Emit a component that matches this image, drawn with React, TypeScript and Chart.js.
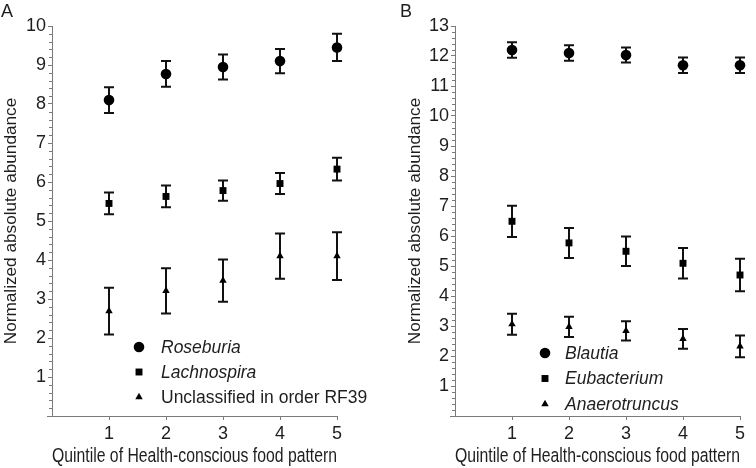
import React, { useEffect, useRef } from "react";
import { Chart, registerables } from "chart.js";

Chart.register(...registerables);

const quintiles = [1, 2, 3, 4, 5];
const xTickLabels = ["", "1", "2", "3", "4", "5"];

// Panel A
const roseburiaMean = [8.1, 8.77, 8.95, 9.1, 9.45];
const roseburiaErr = [0.33, 0.33, 0.32, 0.31, 0.35];
const lachnospiraMean = [5.45, 5.63, 5.78, 5.96, 6.33];
const lachnospiraErr = [0.28, 0.28, 0.26, 0.27, 0.29];
const rf39Mean = [2.69, 3.21, 3.47, 4.1, 4.1];
const rf39Err = [0.6, 0.58, 0.54, 0.58, 0.61];

// Panel B
const blautiaMean = [12.2, 12.1, 12.03, 11.69, 11.69];
const blautiaErr = [0.26, 0.26, 0.25, 0.26, 0.26];
const eubacteriumMean = [6.49, 5.77, 5.49, 5.09, 4.7];
const eubacteriumErr = [0.52, 0.5, 0.49, 0.51, 0.54];
const anaerotruncusMean = [3.06, 2.97, 2.84, 2.57, 2.32];
const anaerotruncusErr = [0.35, 0.34, 0.32, 0.33, 0.36];

const seriesA = [
  { label: "Roseburia", italic: true, style: "circle", mean: roseburiaMean, err: roseburiaErr },
  { label: "Lachnospira", italic: true, style: "rect", mean: lachnospiraMean, err: lachnospiraErr },
  { label: "Unclassified in order RF39", italic: false, style: "triangle", mean: rf39Mean, err: rf39Err },
];
const seriesB = [
  { label: "Blautia", italic: true, style: "circle", mean: blautiaMean, err: blautiaErr },
  { label: "Eubacterium", italic: true, style: "rect", mean: eubacteriumMean, err: eubacteriumErr },
  { label: "Anaerotruncus", italic: true, style: "triangle", mean: anaerotruncusMean, err: anaerotruncusErr },
];

const FONT = "'Liberation Sans', Arial, sans-serif";
const TEXT = "#1e1e1e";
const AXIS = "#7a7a7a";
const radiusFor: Record<string, number> = { circle: 5.3, rect: 4.9, triangle: 4.3 };

const errorBarPlugin = {
  id: "errorBars",
  beforeDatasetsDraw(chart: any) {
    const ctx = chart.ctx;
    const yScale = chart.scales.y;
    ctx.save();
    ctx.strokeStyle = "#111";
    ctx.lineWidth = 2;
    chart.data.datasets.forEach((ds: any, i: number) => {
      const meta = chart.getDatasetMeta(i);
      meta.data.forEach((pt: any, j: number) => {
        const v = ds.data[j].y;
        const e = ds.errors[j];
        const yt = yScale.getPixelForValue(v + e);
        const yb = yScale.getPixelForValue(v - e);
        const x = pt.x;
        ctx.beginPath();
        ctx.moveTo(x, yt);
        ctx.lineTo(x, yb);
        ctx.moveTo(x - 5, yt);
        ctx.lineTo(x + 5, yt);
        ctx.moveTo(x - 5, yb);
        ctx.lineTo(x + 5, yb);
        ctx.stroke();
      });
    });
    ctx.restore();
  },
};

const decorPlugin = {
  id: "decor",
  afterDraw(chart: any, _args: any, opts: any) {
    const ctx = chart.ctx;
    const area = chart.chartArea;
    const y = chart.scales.y;
    ctx.save();
    // minor ticks
    ctx.strokeStyle = AXIS;
    ctx.lineWidth = 1;
    const max = y.max;
    for (let k = 0; k <= max * 5; k++) {
      if (k % 5 === 0) continue;
      const py = Math.round(y.getPixelForValue(k / 5)) + 0.5;
      ctx.beginPath();
      ctx.moveTo(area.left - 3, py);
      ctx.lineTo(area.left, py);
      ctx.stroke();
    }
    // x axis small extension to the left
    ctx.beginPath();
    const by = Math.round(area.bottom) + 0.5;
    ctx.moveTo(area.left - 5, by);
    ctx.lineTo(area.left, by);
    ctx.stroke();

    // panel letter
    ctx.fillStyle = TEXT;
    ctx.font = `18px ${FONT}`;
    ctx.textBaseline = "top";
    ctx.textAlign = "left";
    ctx.fillText(opts.letter, opts.letterX, 3);

    // legend
    const datasets = chart.data.datasets;
    datasets.forEach((ds: any, i: number) => {
      const cy = opts.legendTop + i * opts.legendGap;
      const mx = area.left + opts.markerDx;
      ctx.fillStyle = "#000";
      ctx.beginPath();
      const r = radiusFor[ds.pointStyle];
      if (ds.pointStyle === "circle") {
        ctx.arc(mx, cy, r, 0, Math.PI * 2);
      } else if (ds.pointStyle === "rect") {
        const s = r * Math.SQRT1_2;
        ctx.rect(mx - s, cy - s, 2 * s, 2 * s);
      } else {
        let rad = 0;
        ctx.moveTo(mx + Math.sin(rad) * r, cy - Math.cos(rad) * r);
        rad += (2 * Math.PI) / 3;
        ctx.lineTo(mx + Math.sin(rad) * r, cy - Math.cos(rad) * r);
        rad += (2 * Math.PI) / 3;
        ctx.lineTo(mx + Math.sin(rad) * r, cy - Math.cos(rad) * r);
        ctx.closePath();
      }
      ctx.fill();
      ctx.fillStyle = TEXT;
      ctx.font = `${ds.italic ? "italic " : ""}17.5px ${FONT}`;
      ctx.textBaseline = "middle";
      ctx.fillText(ds.label, area.left + opts.textDx, cy + 1);
    });
    ctx.restore();
  },
};

function makeConfig(series: any[], yMax: number, padLeft: number, padRight: number, yWidth: number, decor: any) {
  return {
    type: "scatter" as const,
    data: {
      datasets: series.map((s) => ({
        label: s.label,
        italic: s.italic,
        data: quintiles.map((q, i) => ({ x: q, y: s.mean[i] })),
        errors: s.err,
        pointStyle: s.style,
        pointRadius: radiusFor[s.style],
        pointHoverRadius: radiusFor[s.style],
        backgroundColor: "#000",
        borderColor: "#000",
        borderWidth: 0,
        showLine: false,
        clip: false,
      })),
    },
    options: {
      animation: false,
      responsive: false,
      events: [],
      layout: { padding: { left: padLeft, right: padRight, top: 26, bottom: 0 } },
      plugins: {
        legend: { display: false },
        tooltip: { enabled: false },
        decor,
      },
      scales: {
        x: {
          type: "linear",
          min: 0,
          max: 5,
          afterFit: (s: any) => {
            s.height = 52;
          },
          ticks: {
            stepSize: 1,
            color: TEXT,
            font: { family: FONT, size: 18 },
            padding: 3,
            callback: (v: any) => xTickLabels[v] ?? "",
          },
          grid: {
            drawOnChartArea: false,
            drawTicks: true,
            tickLength: 4,
            tickColor: (c: any) => (c.tick && c.tick.value === 0 ? "rgba(0,0,0,0)" : AXIS),
          },
          border: { display: true, color: AXIS, width: 1 },
          title: {
            display: true,
            text: "Quintile of Health-conscious food pattern",
            color: TEXT,
            font: { family: FONT, size: 19.3 },
            padding: { top: 0, bottom: 0 },
          },
        },
        y: {
          type: "linear",
          min: 0,
          max: yMax,
          afterFit: (s: any) => {
            s.width = yWidth;
          },
          ticks: {
            stepSize: 1,
            color: TEXT,
            font: { family: FONT, size: 18 },
            padding: 2,
            callback: (v: any) => (v === 0 ? "" : String(v)),
          },
          grid: {
            drawOnChartArea: false,
            drawTicks: true,
            tickLength: 4,
            tickColor: AXIS,
          },
          border: { display: true, color: AXIS, width: 1 },
          title: {
            display: true,
            text: "Normalized absolute abundance",
            color: TEXT,
            font: { family: FONT, size: 17.2 },
            padding: { top: 1, bottom: 0 },
          },
        },
      },
    },
    plugins: [errorBarPlugin, decorPlugin],
  };
}

function Panel({ config, left }: { config: any; left: number }) {
  const ref = useRef<HTMLCanvasElement | null>(null);
  useEffect(() => {
    if (!ref.current) return;
    const chart = new Chart(ref.current, config);
    return () => chart.destroy();
  }, [config]);
  return (
    <canvas
      ref={ref}
      width={378}
      height={468}
      style={{ position: "absolute", left, top: 0, width: 378, height: 468, display: "block" }}
    />
  );
}

const configA = makeConfig(seriesA, 10, 0, 41, 52, {
  letter: "A",
  letterX: 1,
  legendTop: 347,
  legendGap: 25,
  markerDx: 87,
  textDx: 109,
});
const configB = makeConfig(seriesB, 13, 26, 16, 51, {
  letter: "B",
  letterX: 22,
  legendTop: 353,
  legendGap: 25.5,
  markerDx: 90,
  textDx: 110,
});

export default function App() {
  return (
    <div style={{ position: "absolute", left: 0, top: 0, width: 756, height: 468, background: "#fff" }}>
      <Panel config={configA} left={0} />
      <Panel config={configB} left={378} />
    </div>
  );
}
